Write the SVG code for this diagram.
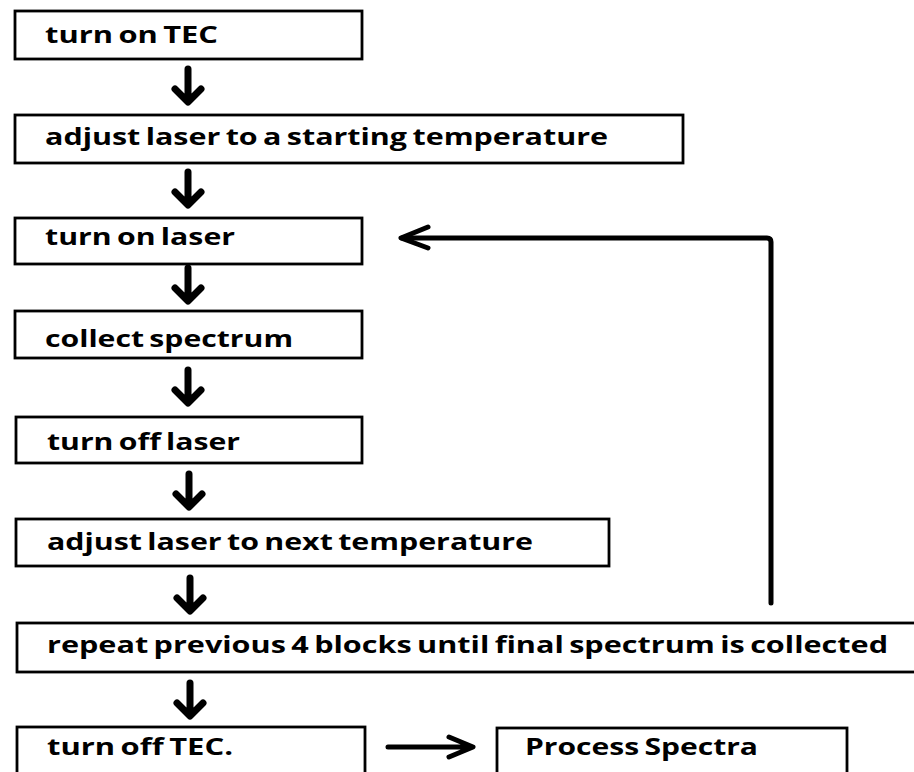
<svg xmlns="http://www.w3.org/2000/svg" width="914" height="772" viewBox="0 0 914 772">
  <style>
    .box { fill: #ffffff; stroke: #000000; stroke-width: 2.8; }
    .lbl { font-family: "Open Sans", "Liberation Sans", sans-serif; font-weight: 700; font-size: 24px; word-spacing: -2px; fill: #000000; }
    .down { fill: none; stroke: #000000; stroke-width: 7; stroke-linecap: round; stroke-linejoin: round; }
    .flow { fill: none; stroke: #000000; stroke-width: 5; stroke-linecap: round; stroke-linejoin: round; }
  </style>
  <defs>
    <!-- bold down arrow used between consecutive steps -->
    <path id="dn" class="down" d="M0,0 V32 M-13,20 L0,33 L13,20"/>
  </defs>
  <rect width="914" height="772" fill="#ffffff"/>

  <g id="step-turn-on-tec">
    <rect class="box" x="15" y="11" width="347" height="48"/>
    <text class="lbl" x="45" y="43" textLength="173" lengthAdjust="spacingAndGlyphs">turn on TEC</text>
  </g>
  <g id="step-adjust-start">
    <rect class="box" x="15" y="115" width="668" height="48"/>
    <text class="lbl" x="45" y="145" textLength="563" lengthAdjust="spacingAndGlyphs">adjust laser to a starting temperature</text>
  </g>
  <g id="step-laser-on">
    <rect class="box" x="15" y="218" width="347" height="46"/>
    <text class="lbl" x="45" y="245" textLength="190" lengthAdjust="spacingAndGlyphs">turn on laser</text>
  </g>
  <g id="step-collect">
    <rect class="box" x="15" y="311" width="347" height="47"/>
    <text class="lbl" x="45" y="347" textLength="248" lengthAdjust="spacingAndGlyphs">collect spectrum</text>
  </g>
  <g id="step-laser-off">
    <rect class="box" x="16" y="417" width="346" height="46"/>
    <text class="lbl" x="47" y="450" textLength="193" lengthAdjust="spacingAndGlyphs">turn off laser</text>
  </g>
  <g id="step-adjust-next">
    <rect class="box" x="16" y="519" width="593" height="47"/>
    <text class="lbl" x="47" y="550" textLength="486" lengthAdjust="spacingAndGlyphs">adjust laser to next temperature</text>
  </g>
  <g id="step-repeat">
    <rect class="box" x="17" y="623" width="910" height="49"/>
    <text class="lbl" x="47" y="653" textLength="841" lengthAdjust="spacingAndGlyphs">repeat previous 4 blocks until final spectrum is collected</text>
  </g>
  <g id="step-tec-off">
    <rect class="box" x="17" y="727" width="348" height="60"/>
    <text class="lbl" x="47" y="755" textLength="186" lengthAdjust="spacingAndGlyphs">turn off TEC.</text>
  </g>
  <g id="step-process">
    <rect class="box" x="497" y="728" width="350" height="60"/>
    <text class="lbl" x="525" y="755" textLength="233" lengthAdjust="spacingAndGlyphs">Process Spectra</text>
  </g>

  <g id="connectors">
    <use href="#dn" x="188" y="69"/>
    <use href="#dn" x="188" y="172"/>
    <use href="#dn" x="188" y="268"/>
    <use href="#dn" x="188" y="370"/>
    <use href="#dn" x="189" y="474"/>
    <use href="#dn" x="190" y="578"/>
    <use href="#dn" x="190" y="683"/>
    <!-- loop back from the repeat step to "turn on laser" -->
    <path class="flow" d="M771,603 V242 Q771,238 767,238 H402"/>
    <path class="flow" d="M428,227 L401,238 L428,248"/>
    <!-- hand-off to processing -->
    <path class="flow" d="M388,747 H472 M449,737 L473,747 L449,757"/>
  </g>
</svg>
